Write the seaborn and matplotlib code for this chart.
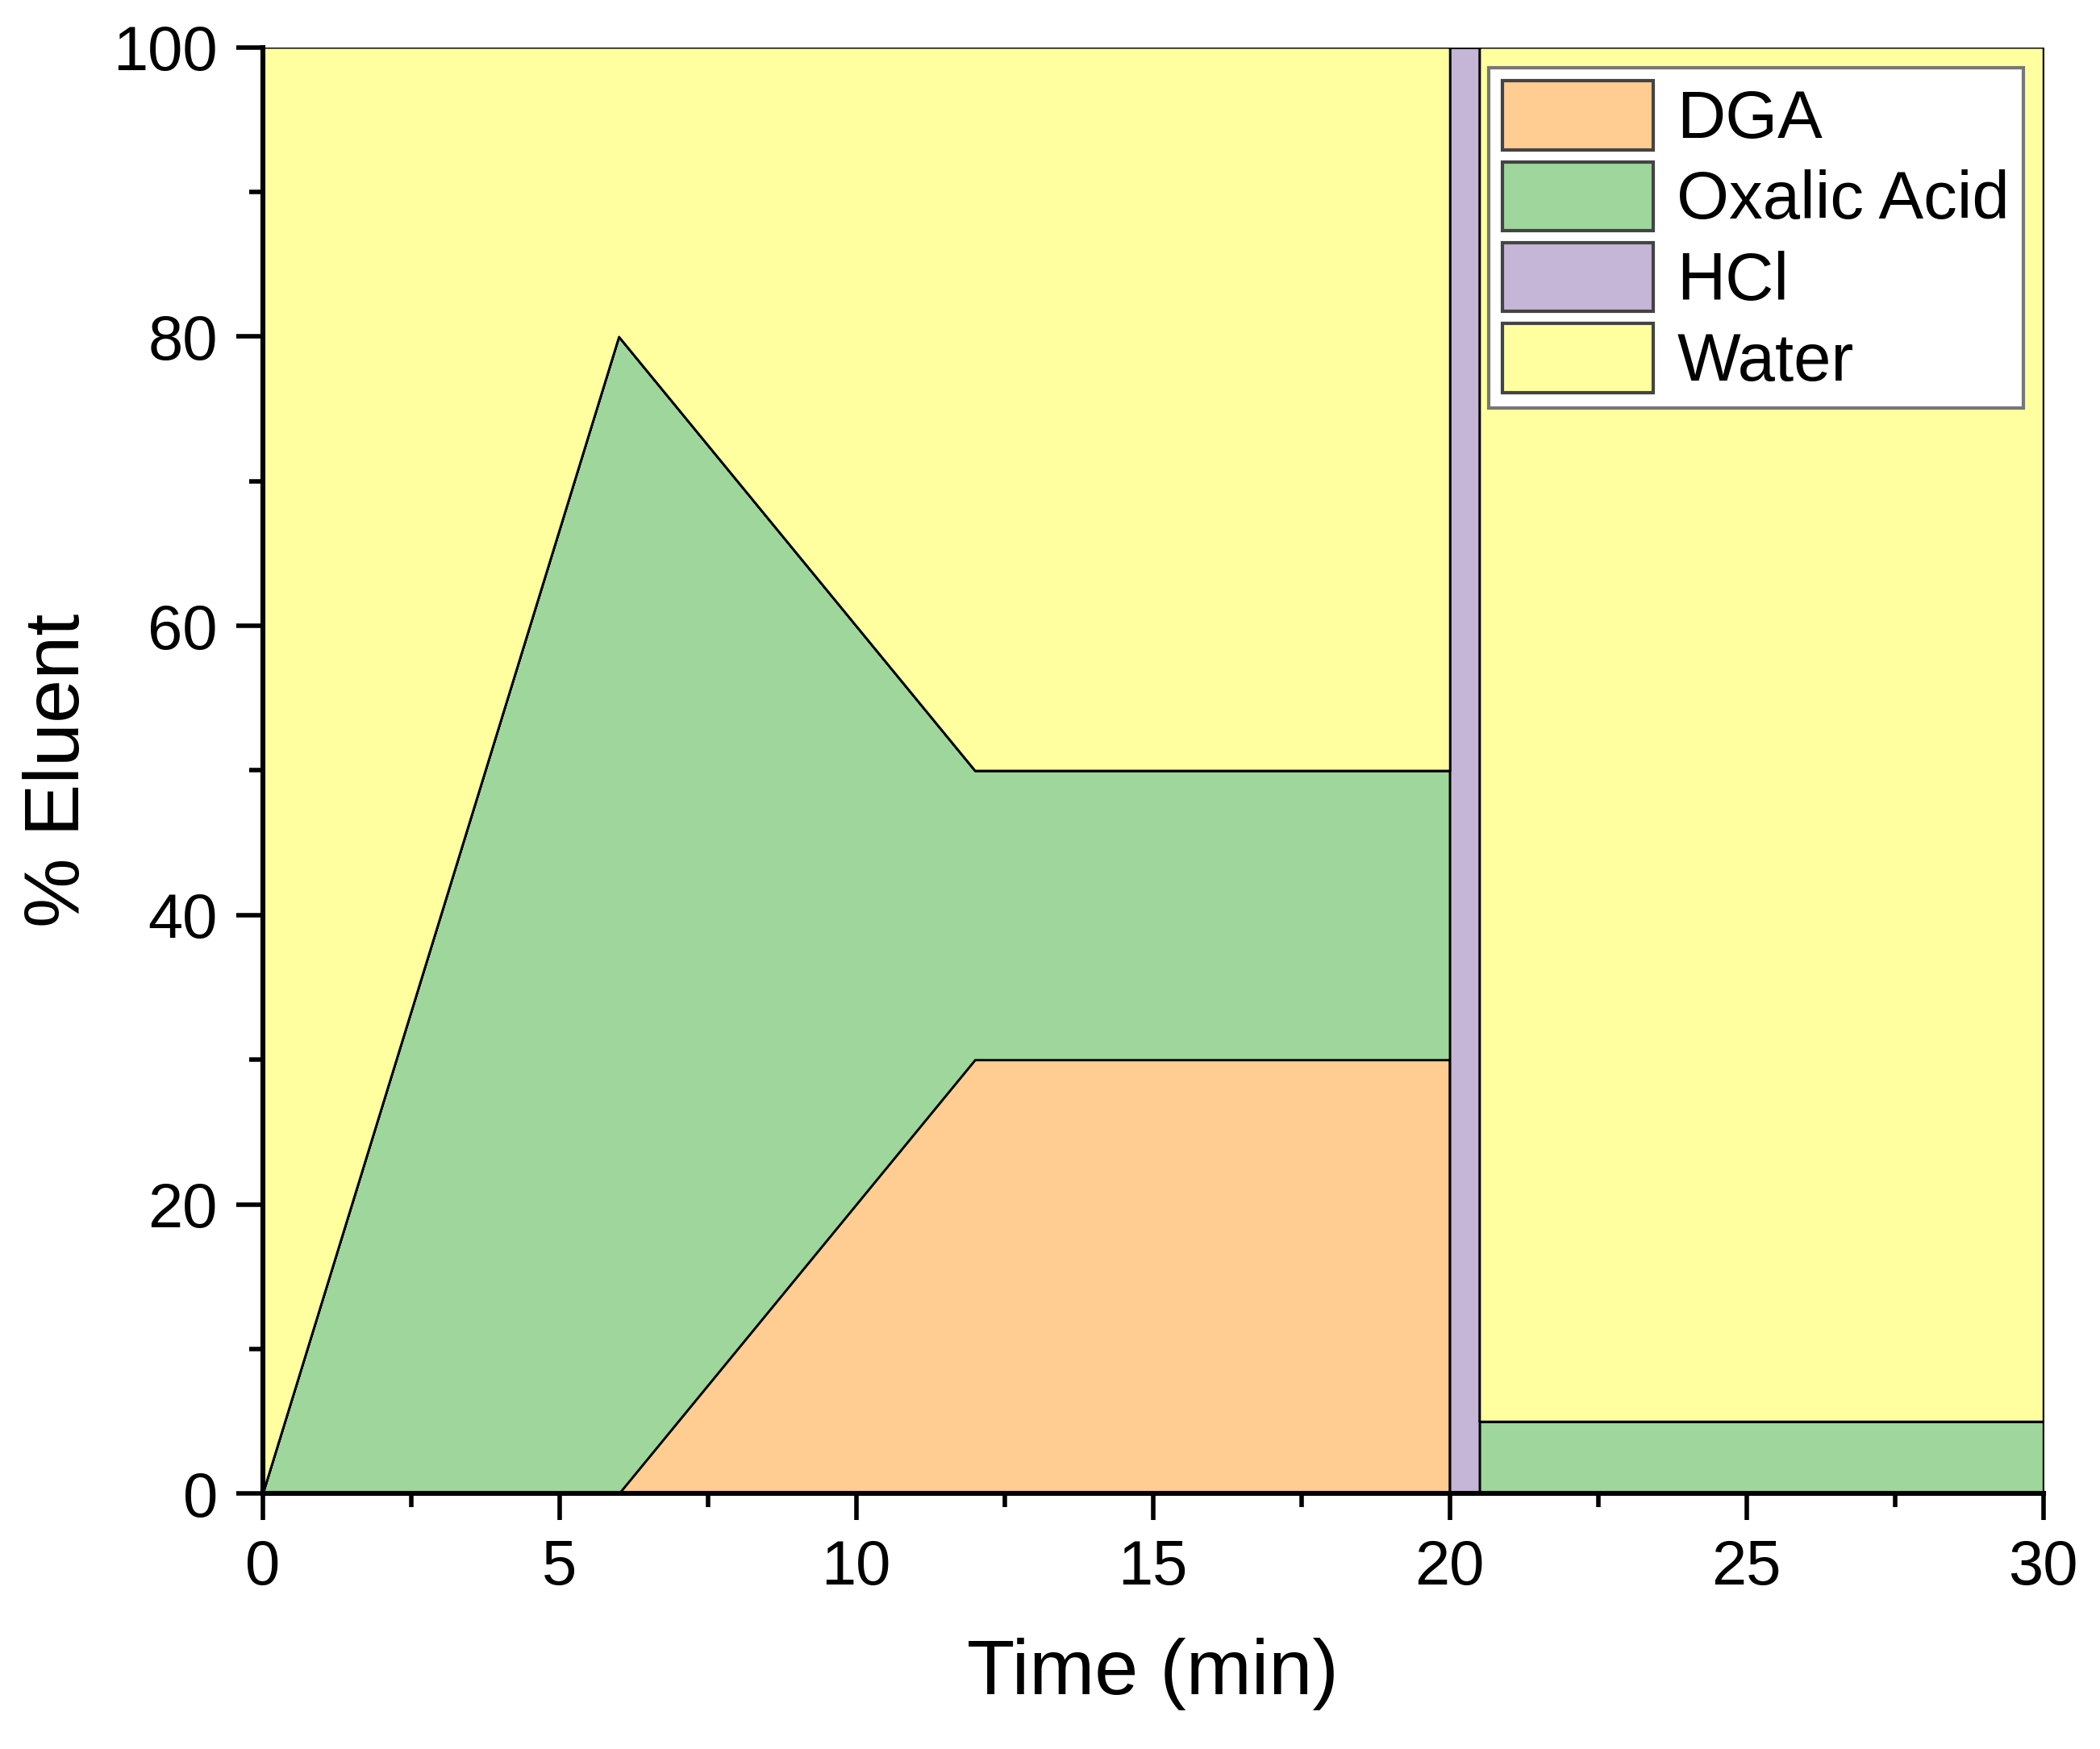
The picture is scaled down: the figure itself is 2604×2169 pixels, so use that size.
import numpy as np
import pandas as pd
import seaborn as sns
import matplotlib.pyplot as plt
from matplotlib.ticker import MultipleLocator
from matplotlib.patches import Patch

# 洗脱程序 (时间, 各组分百分比)
time = [0, 6, 12, 20, 20, 20.5, 20.5, 30]
dga = [0, 0, 30, 30, 0, 0, 0, 0]
oxalic = [0, 80, 20, 20, 0, 0, 5, 5]
hcl = [0, 0, 0, 0, 100, 100, 0, 0]
labels = ['DGA', 'Oxalic Acid', 'HCl', 'Water']
colors = ['#FFCC92', '#9ED69B', '#C5B5D6', '#FFFF9F']

df = pd.DataFrame({'time': time, 'DGA': dga, 'Oxalic Acid': oxalic, 'HCl': hcl})
df['Water'] = 100 - df[['DGA', 'Oxalic Acid', 'HCl']].sum(axis=1)

sns.set_theme(style='ticks')
plt.rcParams['font.family'] = ['Liberation Sans', 'DejaVu Sans']
plt.rcParams.update({'text.color': 'black', 'axes.labelcolor': 'black',
                     'xtick.color': 'black', 'ytick.color': 'black'})

fig = plt.figure(figsize=(13.02, 10.845), dpi=200)
ax = fig.add_axes([0.125, 0.146, 0.848, 0.827])

ax.stackplot(df['time'], [df[c] for c in labels], colors=colors,
             edgecolor='black', linewidth=1.0)

ax.set_xlim(0, 30)
ax.set_ylim(0, 100)
ax.xaxis.set_major_locator(MultipleLocator(5))
ax.xaxis.set_minor_locator(MultipleLocator(2.5))
ax.yaxis.set_major_locator(MultipleLocator(20))
ax.yaxis.set_minor_locator(MultipleLocator(10))

ax.tick_params(axis='both', which='major', direction='out', length=12, width=2,
               labelsize=28, pad=8)
ax.tick_params(axis='both', which='minor', direction='out', length=6, width=2)

for side in ['left', 'bottom']:
    ax.spines[side].set_linewidth(2.2)
    ax.spines[side].set_color('black')
ax.spines['top'].set_visible(False)
ax.spines['right'].set_visible(False)

ax.set_xlabel('Time (min)', fontsize=35, labelpad=18)
ax.set_ylabel('% Eluent', fontsize=35, labelpad=8)

handles = [Patch(facecolor=c, edgecolor='#444444', linewidth=1.5) for c in colors]
leg = ax.legend(handles, labels, loc='upper right', fontsize=30, frameon=True,
                fancybox=False, edgecolor='#777777', framealpha=1,
                handlelength=2.25, handleheight=1.2, labelspacing=0.15,
                borderaxespad=0.3, borderpad=0.2, handletextpad=0.35)
leg.get_frame().set_linewidth(1.5)

plt.savefig('out.png', dpi=200)
